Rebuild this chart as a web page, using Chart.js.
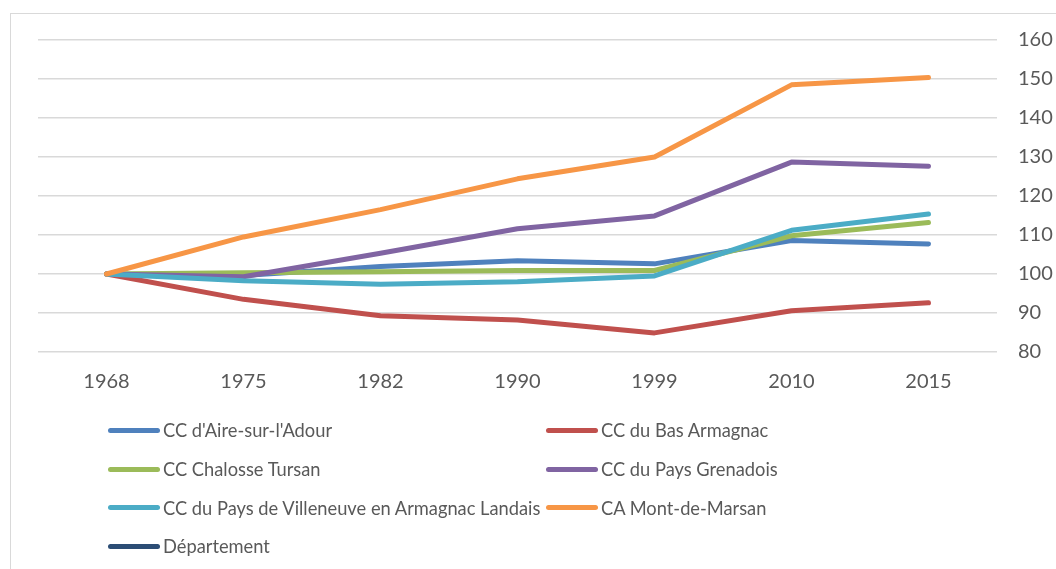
<!DOCTYPE html>
<html>
<head>
<meta charset="utf-8">
<script src="https://cdn.jsdelivr.net/npm/chart.js@4/dist/chart.umd.min.js"></script>
<style>
  html, body { margin: 0; padding: 0; background: #ffffff; }
  body { width: 1056px; height: 569px; position: relative; overflow: hidden; font-family: Lato, "Open Sans", sans-serif; }
  #frame { position: absolute; left: 10px; top: 13px; width: 1200px; height: 700px; border: 1.5px solid #d9d9d9; box-sizing: border-box; }
  #wrap { position: absolute; left: 0; top: 0; width: 1056px; height: 400px; }
  #legend { position: absolute; left: 0; top: 0; width: 1056px; height: 569px; pointer-events: none; }
  .item { position: absolute; height: 24px; display: flex; align-items: center; color: #595959; font-size: 18.3px; white-space: nowrap; }
  .swatch { width: 52px; height: 5px; border-radius: 3px; margin-right: 3px; }
</style>
</head>
<body>
<div id="frame"></div>
<div id="wrap"><canvas id="c"></canvas></div>
<div id="legend"></div>
<script>
const categories = ['1968', '1975', '1982', '1990', '1999', '2010', '2015'];
const aireSurLAdour   = [100, 99.6, 101.9, 103.4, 102.6, 108.6, 107.7];
const basArmagnac     = [100, 93.5, 89.3, 88.2, 84.9, 90.6, 92.6];
const chalosseTursan  = [100, 100.3, 100.6, 100.9, 100.9, 109.8, 113.2];
const paysGrenadois   = [100, 99.3, 105.3, 111.6, 114.9, 128.7, 127.6];
const paysVilleneuve  = [100, 98.3, 97.4, 98.0, 99.5, 111.2, 115.4];
const montDeMarsan    = [100, 109.5, 116.5, 124.4, 130.0, 148.5, 150.4];
const departement     = [];
const seriesLabels = [
  "CC d'Aire-sur-l'Adour", 'CC du Bas Armagnac', 'CC Chalosse Tursan',
  'CC du Pays Grenadois', 'CC du Pays de Villeneuve en Armagnac Landais',
  'CA Mont-de-Marsan', 'Département'
];
const seriesColors = ['#4F81BD', '#C0504D', '#9BBB59', '#8064A2', '#4BACC6', '#F79646', '#2C4D75'];
const yTicks = [80, 90, 100, 110, 120, 130, 140, 150, 160];

const seriesData = [aireSurLAdour, basArmagnac, chalosseTursan, paysGrenadois, paysVilleneuve, montDeMarsan, departement];

const datasets = seriesData.map((d, i) => ({
  label: seriesLabels[i],
  data: d,
  borderColor: seriesColors[i],
  backgroundColor: seriesColors[i],
  borderWidth: 5,
  borderCapStyle: 'round',
  borderJoinStyle: 'round',
  pointRadius: 0,
  tension: 0,
  fill: false,
  order: seriesData.length - i
}));

const axisFont = { family: 'Lato, "Open Sans", sans-serif', size: 20 };

const chart = new Chart(document.getElementById('c'), {
  type: 'line',
  data: { labels: categories, datasets },
  options: {
    responsive: true,
    maintainAspectRatio: false,
    animation: false,
    devicePixelRatio: 1,
    layout: { padding: { left: 38, top: 40, right: 0, bottom: 0 } },
    plugins: { legend: { display: false }, tooltip: { enabled: false }, title: { display: false } },
    scales: {
      x: {
        offset: true,
        grid: { display: false, drawTicks: false },
        border: { display: false },
        ticks: { color: '#595959', font: axisFont, padding: 18, maxRotation: 0 },
        afterFit: (s) => { s.height = 48; }
      },
      y: {
        position: 'right',
        min: yTicks[0],
        max: yTicks[yTicks.length - 1],
        afterBuildTicks: (s) => { s.ticks = yTicks.map(v => ({ value: v })); },
        grid: { color: '#d9d9d9', lineWidth: 1.5, drawTicks: false },
        border: { display: false },
        ticks: { color: '#595959', font: axisFont, padding: 21 },
        afterFit: (s) => { s.width = 59; }
      }
    }
  }
});

// HTML legend built from the chart's datasets (two columns)
const legend = document.getElementById('legend');
const colX = [108, 546];
const rowY = [430, 469, 507.5, 546];
chart.data.datasets.forEach((ds, i) => {
  const el = document.createElement('div');
  el.className = 'item';
  el.style.left = colX[i % 2] + 'px';
  el.style.top = (rowY[Math.floor(i / 2)] - 12) + 'px';
  const sw = document.createElement('div');
  sw.className = 'swatch';
  sw.style.background = ds.borderColor;
  const tx = document.createElement('span');
  tx.textContent = ds.label;
  el.appendChild(sw);
  el.appendChild(tx);
  legend.appendChild(el);
});
</script>
</body>
</html>
